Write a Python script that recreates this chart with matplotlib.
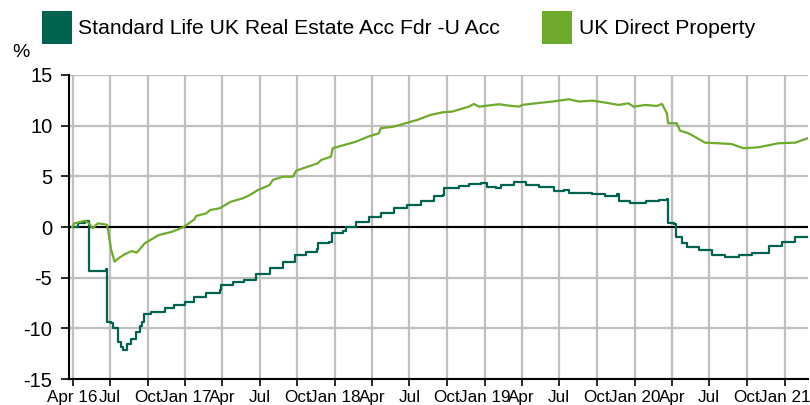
import matplotlib
matplotlib.use("Agg")
import matplotlib.pyplot as plt
from matplotlib.patches import Patch
import pandas as pd

plt.rcParams['font.family'] = ['Liberation Sans', 'DejaVu Sans']
plt.rcParams['axes.unicode_minus'] = False

# cumulative performance, %
fund_name = "Standard Life UK Real Estate Acc Fdr -U Acc"
fund_dates = ["2016-03-31", "2016-04-15", "2016-05-01", "2016-05-10", "2016-05-11",
              "2016-06-22", "2016-06-24", "2016-07-04", "2016-07-08", "2016-07-20",
              "2016-07-28", "2016-08-01", "2016-08-10", "2016-08-12", "2016-08-22",
              "2016-09-03", "2016-09-11", "2016-09-17", "2016-09-22", "2016-10-10",
              "2016-11-11", "2016-12-05", "2016-12-30", "2017-01-23", "2017-02-21",
              "2017-03-25", "2017-03-29", "2017-04-26", "2017-05-24", "2017-06-22",
              "2017-07-25", "2017-08-26", "2017-09-24", "2017-10-22", "2017-11-18",
              "2017-11-21", "2017-12-18", "2017-12-24", "2018-01-19", "2018-01-27",
              "2018-02-21", "2018-03-25", "2018-04-22", "2018-05-24", "2018-06-26",
              "2018-07-29", "2018-08-30", "2018-09-20", "2018-09-24", "2018-10-30",
              "2018-11-23", "2018-12-22", "2019-01-07", "2019-01-28", "2019-02-09",
              "2019-03-13", "2019-04-11", "2019-05-13", "2019-06-19", "2019-07-13",
              "2019-07-25", "2019-08-19", "2019-09-20", "2019-10-22", "2019-11-19",
              "2019-11-23", "2019-12-22", "2020-01-28", "2020-02-29", "2020-03-20",
              "2020-03-23", "2020-04-06", "2020-04-10", "2020-04-26", "2020-05-08",
              "2020-06-06", "2020-07-08", "2020-08-09", "2020-09-11", "2020-10-13",
              "2020-11-23", "2020-12-25", "2021-01-27", "2021-02-26"]
fund_values = [0.0, 0.4, 0.6, 0.6, -4.3,
               -4.1, -9.35, -9.5, -10.0, -11.3,
               -11.8, -12.1, -12.1, -11.5, -11.0,
               -10.4, -9.8, -9.35, -8.6, -8.35,
               -8.0, -7.7, -7.37, -6.94, -6.48,
               -6.22, -5.72, -5.4, -5.23, -4.64,
               -4.08, -3.42, -2.76, -2.44, -2.2,
               -1.6, -1.45, -0.62, -0.36, 0.03,
               0.52, 1.02, 1.35, 1.84, 2.17,
               2.6, 3.06, 3.2, 3.82, 4.05,
               4.21, 4.31, 3.98, 3.82, 4.14,
               4.47, 4.14, 3.98, 3.58, 3.65,
               3.39, 3.32, 3.22, 3.06, 3.26,
               2.6, 2.4, 2.6, 2.66, 2.76,
               0.43, 0.3, -0.95, -1.61, -2.0,
               -2.27, -2.76, -2.93, -2.76, -2.6,
               -1.88, -1.45, -0.95, -0.95]

sector_name = "UK Direct Property"
sector_dates = ["2016-03-31", "2016-04-05", "2016-05-01", "2016-05-10", "2016-05-20",
                "2016-06-01", "2016-06-18", "2016-06-24", "2016-07-04", "2016-07-12",
                "2016-07-21", "2016-08-07", "2016-08-23", "2016-09-04", "2016-09-24",
                "2016-10-28", "2016-11-30", "2016-12-28", "2017-01-23", "2017-01-27",
                "2017-02-21", "2017-03-02", "2017-03-25", "2017-04-22", "2017-05-21",
                "2017-06-07", "2017-06-27", "2017-07-25", "2017-08-02", "2017-08-26",
                "2017-09-20", "2017-09-28", "2017-10-22", "2017-11-20", "2017-11-28",
                "2017-12-22", "2017-12-26", "2018-01-24", "2018-02-21", "2018-03-22",
                "2018-04-18", "2018-04-22", "2018-05-24", "2018-06-21", "2018-07-20",
                "2018-08-21", "2018-09-21", "2018-10-13", "2018-11-23", "2018-12-05",
                "2018-12-18", "2019-02-05", "2019-03-01", "2019-03-26", "2019-04-02",
                "2019-05-05", "2019-06-14", "2019-07-25", "2019-08-19", "2019-09-20",
                "2019-10-22", "2019-11-23", "2019-12-17", "2019-12-30", "2020-01-28",
                "2020-02-24", "2020-03-08", "2020-03-20", "2020-03-23", "2020-04-13",
                "2020-04-21", "2020-05-11", "2020-05-19", "2020-06-21", "2020-07-23",
                "2020-08-24", "2020-09-23", "2020-10-29", "2020-12-17", "2021-01-27",
                "2021-02-26"]
sector_values = [0.0, 0.36, 0.62, 0.4, -0.13,
                 0.36, 0.27, 0.2, -2.27, -3.42,
                 -3.1, -2.66, -2.37, -2.53, -1.6,
                 -0.79, -0.46, 0.0, 0.76, 1.09,
                 1.35, 1.68, 1.84, 2.5, 2.83,
                 3.16, 3.65, 4.14, 4.64, 4.96,
                 4.96, 5.56, 5.89, 6.29, 6.61,
                 6.94, 7.77, 8.1, 8.42, 8.91,
                 9.25, 9.74, 9.9, 10.23, 10.56,
                 11.05, 11.32, 11.38, 11.87, 12.14,
                 11.87, 12.11, 11.97, 11.87, 12.04,
                 12.2, 12.37, 12.6, 12.37, 12.47,
                 12.27, 12.04, 12.2, 11.87, 12.04,
                 11.94, 12.14, 11.22, 10.23, 10.23,
                 9.5, 9.25, 9.08, 8.32, 8.26,
                 8.19, 7.77, 7.86, 8.26, 8.32,
                 8.75]

dark_green = "#00634F"
light_green = "#6EAA2B"

fig = plt.figure(figsize=(8.1, 4.05), dpi=100)
ax = fig.add_axes([0.0852, 0.064, 0.9128, 0.751])

# fund is priced in steps, the sector index moves more smoothly
ax.plot(pd.to_datetime(fund_dates), fund_values, color=dark_green, lw=1.6,
        drawstyle="steps-post", zorder=3)
ax.plot(pd.to_datetime(sector_dates), sector_values, color=light_green, lw=1.6,
        zorder=3)
ax.axhline(0, color="black", lw=1.5, zorder=2)

ax.set_ylim(-15, 15)
ax.set_yticks(range(-15, 16, 5))
ax.set_xlim(pd.Timestamp("2016-03-23"), pd.Timestamp("2021-02-28"))

quarters = pd.date_range("2016-04-01", "2021-01-01", freq="QS-JAN")
ax.set_xticks(quarters)
labels = []
for i, d in enumerate(quarters):
    if i == 0 or d.month == 1:
        labels.append(d.strftime("%b %y"))
    else:
        labels.append(d.strftime("%b"))
ax.set_xticklabels(labels)

ax.grid(True, color="#BFBFBF", lw=1.6, zorder=0)
ax.set_axisbelow(True)
for s in ["top", "right"]:
    ax.spines[s].set_visible(False)
for s in ["left", "bottom"]:
    ax.spines[s].set_color("black")
    ax.spines[s].set_linewidth(1.5)
ax.tick_params(axis="y", labelsize=14.5, length=6, width=1.2, pad=6)
ax.tick_params(axis="x", labelsize=12.3, length=5, width=1.2, pad=3)

fig.text(12 / 810, 1 - 44 / 405, "%", fontsize=14, ha="left", va="top")

handles = [Patch(facecolor=dark_green, label=fund_name),
           Patch(facecolor=light_green, label=sector_name)]
fig.legend(handles=handles, loc="upper left", bbox_to_anchor=(42 / 810, 1 - 11 / 405),
           ncol=2, frameon=False, fontsize=15.2, handlelength=1.42, handleheight=2.0,
           handletextpad=0.3, columnspacing=2.0, borderaxespad=0, borderpad=0)

fig.savefig("out.png", dpi=100)
